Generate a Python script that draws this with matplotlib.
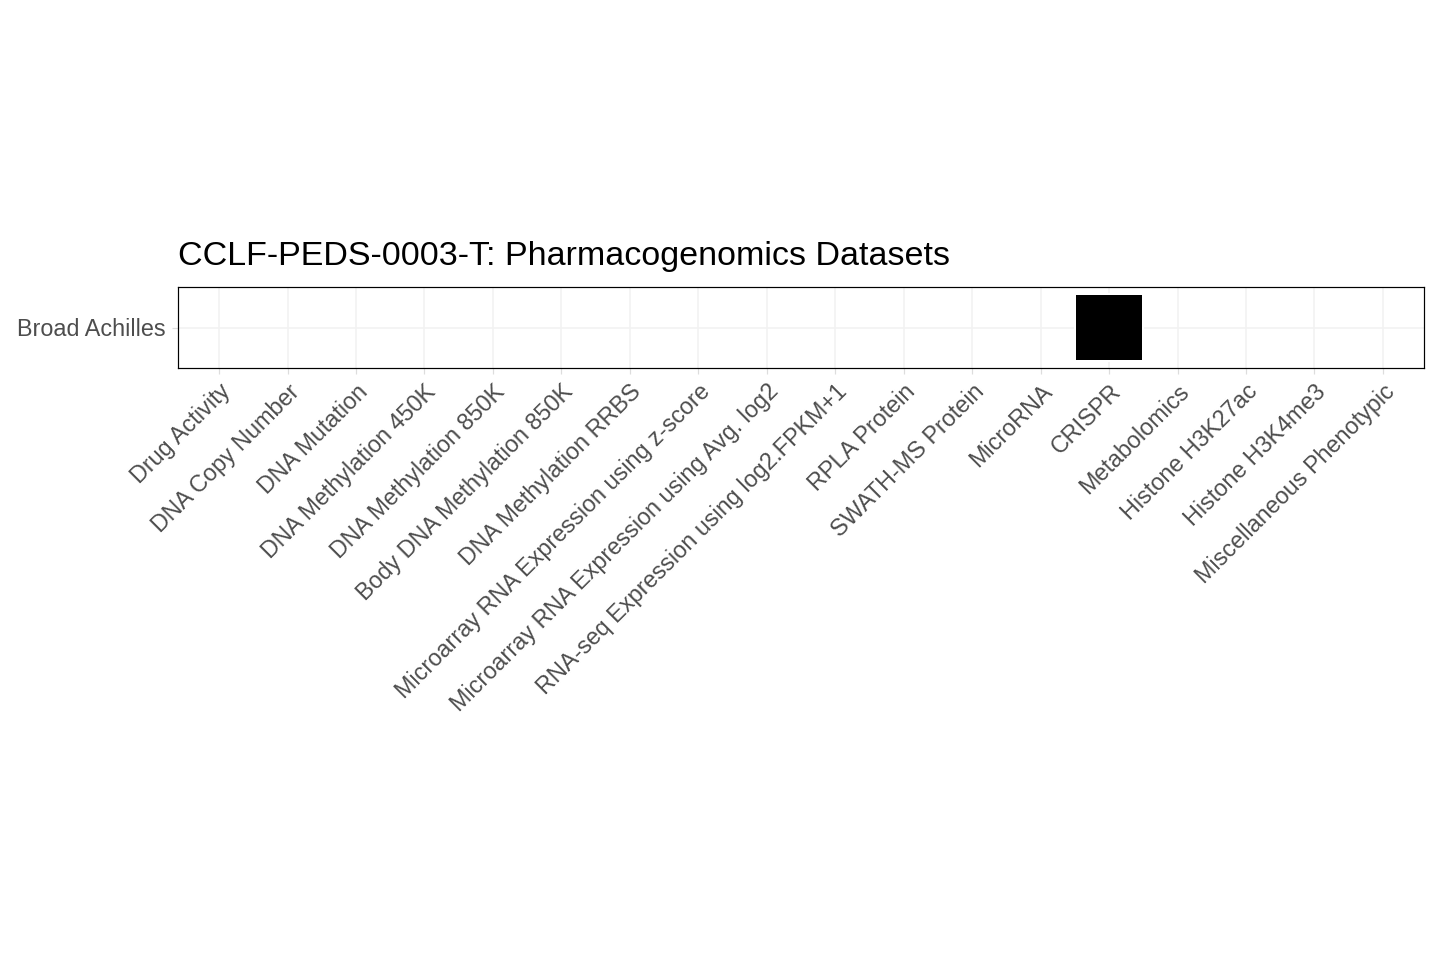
import matplotlib
matplotlib.use("Agg")
import matplotlib.pyplot as plt
from matplotlib.patches import Rectangle

categories = ["Drug Activity", "DNA Copy Number", "DNA Mutation", "DNA Methylation 450K",
              "DNA Methylation 850K", "Body DNA Methylation 850K", "DNA Methylation RRBS",
              "Microarray RNA Expression using z-score", "Microarray RNA Expression using Avg. log2",
              "RNA-seq Expression using log2.FPKM+1", "RPLA Protein", "SWATH-MS Protein",
              "MicroRNA", "CRISPR", "Metabolomics", "Histone H3K27ac", "Histone H3K4me3",
              "Miscellaneous Phenotypic"]
rows = ["Broad Achilles"]
present = [0,0,0,0,0,0,0,0,0,0,0,0,0,1,0,0,0,0]

plt.rcParams["font.family"] = "Liberation Sans"
fig = plt.figure(figsize=(10, 960/144), dpi=144)
ax = fig.add_axes([178/1440, 1-368/960, (1424-178)/1440, (368-287)/960])
n = len(categories)
ax.set_xlim(0.4, n + 0.6)
ax.set_ylim(0.4, 1.6)
for i, v in enumerate(present):
    if v:
        ax.add_patch(Rectangle((i + 1 - 0.5, 0.5), 1, 1, facecolor="black",
                               edgecolor="white", linewidth=1.0, zorder=3))
ax.set_xticks(range(1, n + 1))
ax.set_xticklabels(categories, rotation=45, ha="right", rotation_mode="anchor",
                   fontsize=11.7, color="#4d4d4d")
ax.set_yticks([1])
ax.set_yticklabels(rows, fontsize=11.7, color="#4d4d4d")
ax.grid(True, color="#f2f2f2", linewidth=0.8, zorder=0)
ax.set_axisbelow(True)
ax.tick_params(length=3, color="#dddddd", width=0.6, pad=3)
for s in ax.spines.values():
    s.set_linewidth(0.6)
    s.set_color("black")
fig.text(178/1440, 1-265/960, "CCLF-PEDS-0003-T: Pharmacogenomics Datasets",
         fontsize=17, ha="left", va="baseline")
fig.savefig("out.png", dpi=144)
